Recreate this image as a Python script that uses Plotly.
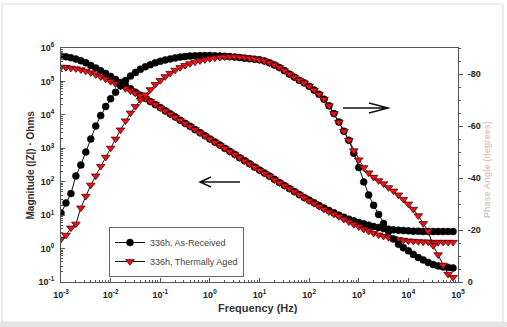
import numpy as np
import plotly.graph_objects as go

# ---------------- data ----------------
log_freq = np.round(np.arange(-3.0, 4.95, 0.1), 1)   # measurement grid, 10 pts/decade
freq = 10 ** log_freq

mag_as_received_log10 = [
    5.76, 5.74, 5.71, 5.67, 5.62, 5.56, 5.48, 5.40, 5.32, 5.24,
    5.15, 5.06, 4.97, 4.87, 4.78, 4.68, 4.59, 4.50, 4.40, 4.31,
    4.22, 4.12, 4.03, 3.94, 3.84, 3.75, 3.66, 3.56, 3.47, 3.38,
    3.28, 3.19, 3.10, 3.00, 2.91, 2.82, 2.72, 2.63, 2.54, 2.44,
    2.35, 2.26, 2.17, 2.07, 1.98, 1.89, 1.80, 1.71, 1.62, 1.53,
    1.45, 1.37, 1.29, 1.21, 1.14, 1.07, 1.00, 0.94, 0.88, 0.83,
    0.78, 0.74, 0.70, 0.66, 0.63, 0.60, 0.58, 0.56, 0.55, 0.54,
    0.53, 0.52, 0.52, 0.51, 0.51, 0.51, 0.51, 0.51, 0.51, 0.51]

mag_aged_log10 = [
    5.43, 5.42, 5.40, 5.38, 5.35, 5.31, 5.26, 5.20, 5.14, 5.07,
    5.00, 4.93, 4.86, 4.79, 4.72, 4.65, 4.57, 4.49, 4.40, 4.31,
    4.21, 4.12, 4.02, 3.93, 3.84, 3.74, 3.65, 3.56, 3.46, 3.37,
    3.28, 3.18, 3.09, 3.00, 2.90, 2.81, 2.72, 2.62, 2.53, 2.44,
    2.34, 2.25, 2.16, 2.06, 1.97, 1.88, 1.79, 1.70, 1.61, 1.52,
    1.43, 1.35, 1.26, 1.18, 1.10, 1.03, 0.96, 0.88, 0.80, 0.72,
    0.65, 0.58, 0.52, 0.46, 0.41, 0.37, 0.33, 0.30, 0.27, 0.25,
    0.23, 0.22, 0.21, 0.20, 0.20, 0.19, 0.19, 0.19, 0.19, 0.19]

phase_as_received = [
    -26.5, -30.4, -34.0, -40.8, -45.0, -50.0, -55.0, -60.0, -64.0, -67.5,
    -70.5, -73.0, -75.5, -77.5, -79.2, -80.6, -81.8, -82.8, -83.6, -84.3,
    -84.9, -85.4, -85.8, -86.2, -86.5, -86.7, -86.9, -87.0, -87.1, -87.1,
    -87.1, -87.0, -86.9, -86.8, -86.7, -86.5, -86.3, -86.1, -85.9, -85.7,
    -85.5, -85.0, -84.3, -83.5, -82.5, -81.3, -80.0, -78.8, -77.6, -76.6,
    -75.3, -73.8, -72.2, -70.3, -67.8, -64.8, -61.5, -58.0, -54.5, -49.5,
    -44.0, -38.5, -33.5, -29.5, -26.0, -22.5, -19.5, -16.5, -14.5, -13.2,
    -12.0, -10.6, -9.4, -8.5, -7.5, -6.7, -6.2, -5.8, -5.6, -5.4]

phase_aged = [
    -16.5, -18.0, -20.8, -22.3, -28.5, -33.0, -37.3, -40.8, -44.5, -48.0,
    -51.5, -55.0, -58.5, -62.0, -65.0, -67.5, -70.0, -72.0, -74.0, -76.0,
    -77.5, -79.0, -80.3, -81.5, -82.5, -83.3, -84.0, -84.6, -85.1, -85.5,
    -85.9, -86.2, -86.4, -86.6, -86.7, -86.7, -86.6, -86.4, -86.1, -85.8,
    -85.4, -85.0, -84.3, -83.5, -82.5, -81.3, -80.0, -78.8, -77.6, -76.6,
    -75.3, -73.8, -72.2, -70.3, -67.8, -64.8, -61.5, -58.0, -54.5, -50.5,
    -47.0, -44.0, -42.0, -40.3, -39.0, -37.8, -36.3, -35.0, -33.5, -31.8,
    -30.0, -28.0, -25.5, -22.5, -19.5, -14.0, -10.5, -6.5, -3.0, -1.8]

series_names = ["336h, As-Received", "336h, Thermally Aged"]
x_tick_exponents = [-3, -2, -1, 0, 1, 2, 3, 4, 5]
y_tick_exponents = [-1, 0, 1, 2, 3, 4, 5, 6]
phase_ticks = [0, -20, -40, -60, -80]

# ---------------- figure ----------------
W, H = 507, 327
L, R, T, B = 61, 49, 48, 45
PW, PH = W - L - R, H - T - B


def px(x):
    return (x - L) / PW


def py(y):
    return (H - B - y) / PH


black_marker = dict(symbol="circle", size=7, color="#000000", line=dict(color="#000000", width=0.5))
red_marker = dict(symbol="triangle-down", size=7.5, color="#e3141c", line=dict(color="#5a0000", width=0.8))
line_style = dict(color="#111111", width=1)

fig = go.Figure()
fig.add_trace(go.Scatter(x=freq, y=10 ** np.array(mag_as_received_log10), mode="lines+markers",
                         name=series_names[0], marker=black_marker, line=line_style))
fig.add_trace(go.Scatter(x=freq, y=10 ** np.array(mag_aged_log10), mode="lines+markers",
                         name=series_names[1], marker=red_marker, line=line_style))
fig.add_trace(go.Scatter(x=freq, y=phase_as_received, mode="lines+markers", yaxis="y2",
                         name=series_names[0], showlegend=False,
                         marker=black_marker, line=line_style))
fig.add_trace(go.Scatter(x=freq, y=phase_aged, mode="lines+markers", yaxis="y2",
                         name=series_names[1], showlegend=False,
                         marker=red_marker, line=line_style))

tickfont = dict(family="Liberation Sans, Arial", size=9, color="#222222")
minor_x = [m * 10.0 ** e for e in range(-3, 5) for m in range(2, 10)]
minor_y = [m * 10.0 ** e for e in range(-1, 6) for m in range(2, 10)]

fig.update_layout(
    width=W, height=H,
    margin=dict(l=L, r=R, t=T, b=B, pad=0),
    paper_bgcolor="white", plot_bgcolor="white",
    showlegend=True,
    legend=dict(x=px(109), y=py(277), xanchor="left", yanchor="bottom",
                bgcolor="white", bordercolor="#666666", borderwidth=1,
                font=dict(family="Liberation Sans, Arial", size=9, color="#444444"),
                tracegroupgap=0, itemwidth=30),
    xaxis=dict(type="log", range=[-3, 5], showgrid=False, zeroline=False,
               showline=True, linecolor="#555555", linewidth=1, mirror=True,
               ticks="inside", ticklen=4, tickcolor="#555555",
               tickvals=[10.0 ** e for e in x_tick_exponents],
               ticktext=["<b>10<sup>%d</sup></b>" % e for e in x_tick_exponents],
               tickfont=tickfont, ticklabelstandoff=4,
               minor=dict(tickvals=minor_x, ticks="inside", ticklen=2, tickcolor="#555555")),
    yaxis=dict(type="log", range=[-1, 6], showgrid=False, zeroline=False,
               showline=True, linecolor="#555555", linewidth=1,
               ticks="inside", ticklen=4, tickcolor="#555555",
               tickvals=[10.0 ** e for e in y_tick_exponents],
               ticktext=["<b>10<sup>%d</sup></b>" % e for e in y_tick_exponents],
               tickfont=tickfont, ticklabelstandoff=4,
               minor=dict(tickvals=minor_y, ticks="inside", ticklen=2, tickcolor="#555555")),
    yaxis2=dict(overlaying="y", side="right", range=[0, -90], showgrid=False, zeroline=False,
                showline=True, linecolor="#555555", linewidth=1,
                ticks="outside", ticklen=4, tickcolor="#555555",
                tickvals=phase_ticks, ticktext=["<b>%d</b>" % v for v in phase_ticks],
                tickfont=tickfont, ticklabelstandoff=3,
                minor=dict(dtick=5, ticks="outside", ticklen=2, tickcolor="#555555")),
)

annotations = [
    dict(text="<b>Magnitude (|Z|) · Ohms</b>", textangle=-90, x=px(22), y=py(165),
         xref="paper", yref="paper", showarrow=False,
         font=dict(family="Liberation Sans Narrow, Liberation Sans, Arial", size=10, color="#333333")),
    dict(text="<b>Phase Angle (degrees)</b>", textangle=-90, x=px(494), y=py(170),
         xref="paper", yref="paper", showarrow=False,
         font=dict(family="Liberation Sans Narrow, Liberation Sans, Arial", size=9, color="#d6ccc2")),
    dict(text="<b>Frequency (Hz)</b>", x=px(258), y=py(316),
         xref="paper", yref="paper", showarrow=False,
         font=dict(family="Liberation Sans, Arial", size=11, color="#333333")),
]
fig.update_layout(annotations=annotations)

shapes = [
    # left arrow
    dict(type="path", xref="paper", yref="paper", layer="above",
         path="M %f,%f L %f,%f M %f,%f L %f,%f L %f,%f" % (
             px(240), py(182), px(200), py(182),
             px(211), py(177), px(200), py(182), px(211), py(187)),
         line=dict(color="#111111", width=1.5)),
    # right arrow
    dict(type="path", xref="paper", yref="paper", layer="above",
         path="M %f,%f L %f,%f M %f,%f L %f,%f L %f,%f" % (
             px(343), py(108), px(388), py(108),
             px(369), py(103), px(388), py(108), px(369), py(113)),
         line=dict(color="#111111", width=1.5)),
    # outer light frame
    dict(type="rect", xref="paper", yref="paper", layer="below",
         x0=px(2), x1=px(503), y0=py(322), y1=py(4),
         line=dict(color="#dcdcdc", width=1)),
    # bottom gray band
    dict(type="rect", xref="paper", yref="paper", layer="below",
         x0=px(0), x1=px(507), y0=py(327), y1=py(322),
         line=dict(width=0), fillcolor="#e4e4e4"),
]
fig.update_layout(shapes=shapes)

fig.write_html("out.html")
